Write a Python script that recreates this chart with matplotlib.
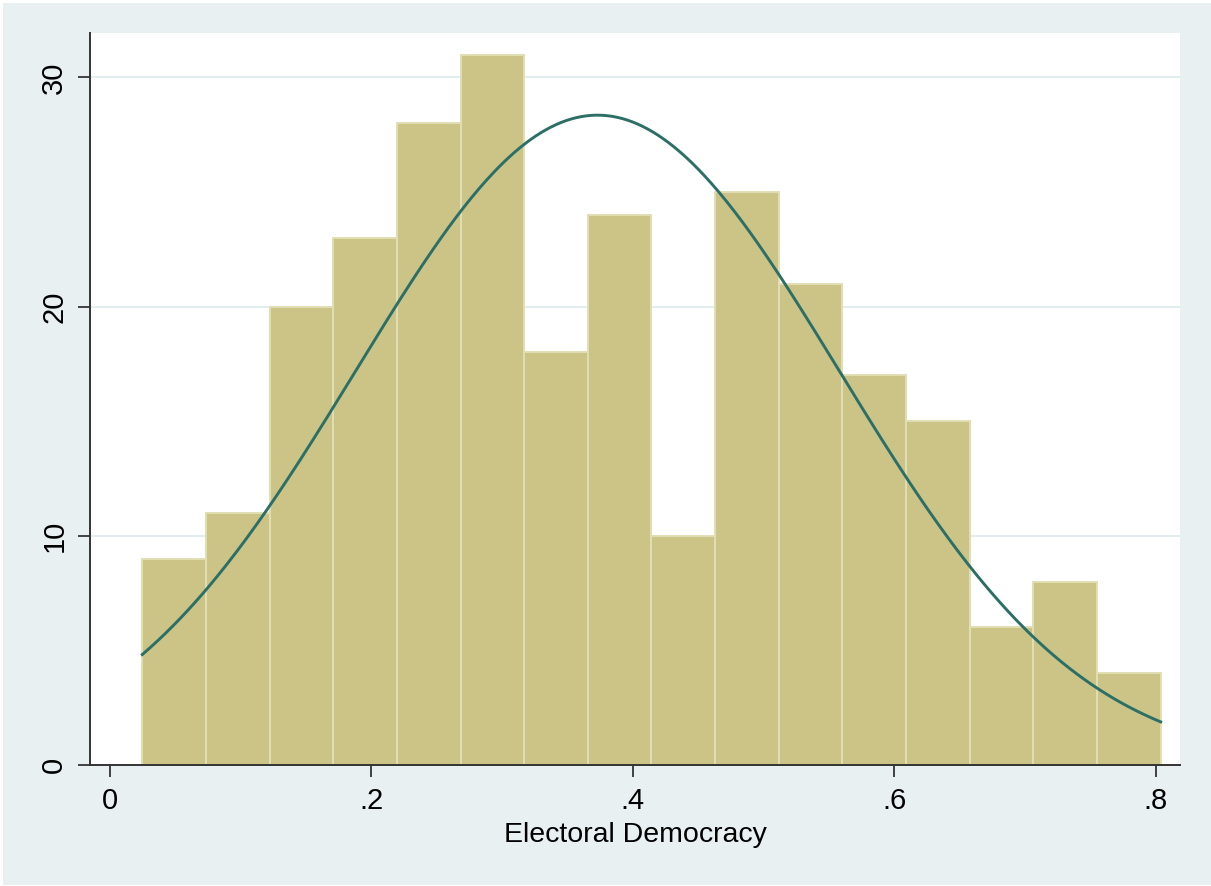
import numpy as np
import matplotlib.pyplot as plt
from matplotlib.patches import Rectangle

plt.rcParams['font.family'] = ['Liberation Sans', 'DejaVu Sans']

# histogram of electoral democracy scores (frequency per bin)
counts = [9, 11, 20, 23, 28, 31, 18, 24, 10, 25, 21, 17, 15, 6, 8, 4]
bin_start = 0.0247
bin_width = 0.0487

# normal density overlay
mean_edi = 0.373
sd_edi = 0.185

x_ticks = [0, 0.2, 0.4, 0.6, 0.8]
x_ticklabels = ['0', '.2', '.4', '.6', '.8']
y_ticks = [0, 10, 20, 30]

bg = '#E8F0F2'
bar_fill = '#CCC387'
bar_edge = '#E2DEB4'
line_col = '#2C6F66'
axis_col = '#333333'

fig = plt.figure(figsize=(12.11, 8.86), dpi=100)
fig.patch.set_facecolor('white')
fig.patches.append(Rectangle((3 / 1211, 1 / 886), 1208 / 1211, 882 / 886,
                             transform=fig.transFigure, facecolor=bg,
                             edgecolor='none', zorder=-5))

ax = fig.add_axes([90 / 1211, (886 - 765) / 886, 1090 / 1211, 732 / 886])
ax.set_zorder(2)
ax.set_facecolor('white')

edges = bin_start + bin_width * np.arange(len(counts))
ax.bar(edges, counts, width=bin_width, align='edge', color=bar_fill,
       edgecolor=bar_edge, linewidth=1.4, zorder=2)

n = sum(counts)
xs = np.linspace(bin_start, bin_start + bin_width * len(counts), 400)
dens = n * bin_width / (sd_edi * np.sqrt(2 * np.pi)) * np.exp(-0.5 * ((xs - mean_edi) / sd_edi) ** 2)
ax.plot(xs, dens, color=line_col, lw=2.1, zorder=3)

for yv in y_ticks[1:]:
    ax.axhline(yv, color='#E3ECEF', lw=1.5, zorder=1)

ax.set_xlim(-0.0153, 0.8187)
ax.set_ylim(0, 31.94)
ax.set_xticks(x_ticks)
ax.set_xticklabels(x_ticklabels)
ax.set_yticks(y_ticks)
ax.set_yticklabels([str(v) for v in y_ticks], rotation=90, va='center')

for side in ['top', 'right']:
    ax.spines[side].set_visible(False)
for side in ['left', 'bottom']:
    ax.spines[side].set_color(axis_col)
    ax.spines[side].set_linewidth(1.4)
    ax.spines[side].set_zorder(4)

ax.tick_params(direction='out', length=8.6, width=1.3, color=axis_col,
               labelsize=21, pad=7)
ax.set_xlabel('Electoral Democracy', fontsize=20.5, labelpad=5)

fig.savefig('out.png', dpi=100, facecolor=fig.get_facecolor())
